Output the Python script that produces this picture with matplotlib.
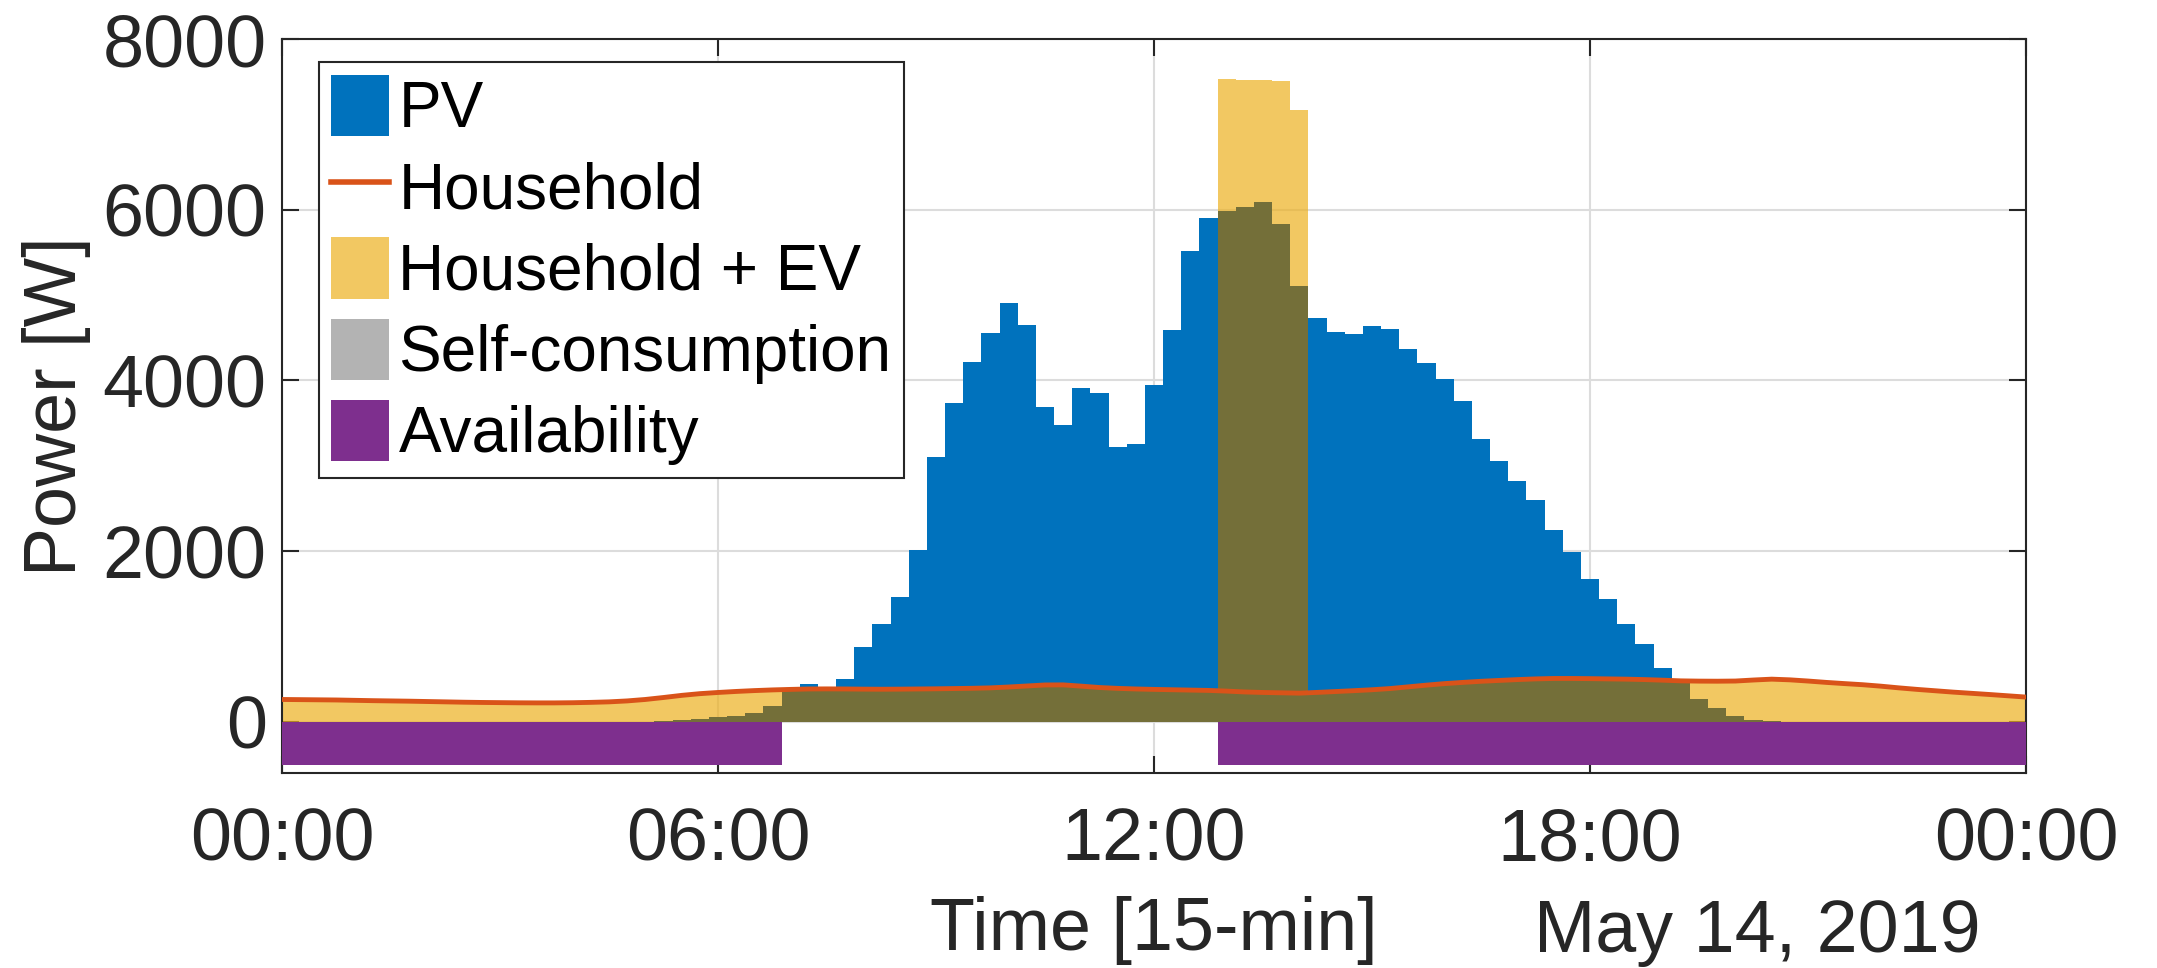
import matplotlib
matplotlib.use("Agg")
import matplotlib.pyplot as plt
import numpy as np
from matplotlib.patches import Patch
from matplotlib.lines import Line2D

plt.rcParams["font.family"] = ["Liberation Sans", "DejaVu Sans"]

# 15-min time steps over May 14, 2019 (hours)
horas = np.arange(97) * 0.25

# PV generation [W]
pv = [0] * 21 + [
    8, 20, 31, 51, 70, 101, 187, 385, 440, 392, 499, 876, 1152, 1462, 2018,
    3103, 3731, 4219, 4551, 4906, 4654, 3686, 3475, 3915, 3852, 3224, 3251,
    3941, 4587, 5511, 5905, 5982, 6026, 6094, 5829, 5107, 4737, 4562, 4539,
    4640, 4602, 4373, 4208, 4014, 3757, 3315, 3053, 2825, 2597, 2247, 1985,
    1675, 1437, 1150, 915, 628, 470, 268, 160, 74, 26, 8,
] + [0] * 14

# Household load [W]
hogar = [
    262, 260, 258, 256, 252, 248, 245, 242, 238, 234, 230, 227, 225, 223, 222,
    222, 224, 228, 234, 245, 262, 285, 310, 330, 344, 356, 366, 374, 380, 385,
    386, 385, 383, 382, 383, 385, 387, 390, 393, 398, 408, 420, 432, 433, 418,
    402, 392, 385, 380, 376, 372, 368, 360, 350, 344, 340, 336, 345, 355, 365,
    376, 390, 410, 430, 448, 462, 475, 485, 495, 503, 508, 508, 506, 503, 500,
    495, 488, 480, 477, 476, 478, 490, 500, 492, 478, 462, 448, 435, 418, 398,
    380, 364, 348, 334, 320, 305, 290,
]

# EV charging [W]
ev = [0] * 52 + [7170, 7175, 7170, 7170, 6830] + [0] * 40

# EV availability at home (1 = plugged in)
disponible = [1] * 28 + [0] * 24 + [1] * 45

xticks = [0, 6, 12, 18, 24]
xtick_labels = ["00:00", "06:00", "12:00", "18:00", "00:00"]
yticks = [0, 2000, 4000, 6000, 8000]

pv = np.array(pv, dtype=float)
hogar = np.array(hogar, dtype=float)
carga = hogar + np.array(ev, dtype=float)
autoconsumo = np.minimum(pv, carga)
disp = -500 * np.array(disponible, dtype=float)

bordes = np.append(horas - 0.125, horas[-1] + 0.125)

azul = "#0072BD"
naranja = "#D95319"
amarillo = "#EDB120"
morado = "#7E2F8E"
oliva = "#746F39"
gris_txt = "#262626"
fs = 53

fig = plt.figure(figsize=(21.57, 9.68), dpi=100)
ax = fig.add_axes([0.1307, 0.2014, 0.8086, 0.7583])

ax.stairs(carga, bordes, fill=True, color=amarillo, alpha=0.7, zorder=2)
ax.stairs(pv, bordes, fill=True, color=azul, zorder=3)
ax.stairs(autoconsumo, bordes, fill=True, color=oliva, zorder=4)
ax.plot(horas, hogar, color=naranja, lw=3.5, zorder=5)
ax.stairs(disp, bordes, fill=True, color=morado, baseline=0, zorder=5)

ax.set_xlim(0, 24)
ax.set_ylim(-600, 8000)
ax.set_xticks(xticks, xtick_labels)
ax.set_yticks(yticks)
ax.grid(True, color="#dcdcdc", lw=1.5, zorder=0)
ax.set_axisbelow(True)

ax.tick_params(direction="in", length=12, width=1.5, colors=gris_txt,
               labelsize=fs, top=True, right=True)
ax.tick_params(axis="x", pad=24)
ax.tick_params(axis="y", pad=11)
for s in ax.spines.values():
    s.set_color(gris_txt)
    s.set_linewidth(1.5)

ax.set_ylabel("Power [W]", fontsize=fs, color=gris_txt, va="center")
ax.yaxis.set_label_coords(-0.129, 0.5)
ax.set_xlabel("Time [15-min]", fontsize=fs, color=gris_txt, va="center")
ax.xaxis.set_label_coords(0.5, -0.215)
fig.text(0.9184, 0.037, "May 14, 2019", fontsize=fs, color=gris_txt,
         ha="right", va="center")

manejadores = [
    Patch(facecolor=azul, edgecolor="none"),
    Line2D([0], [0], color=naranja, lw=4),
    Patch(facecolor=amarillo, alpha=0.7, edgecolor="none"),
    Patch(facecolor="#B3B3B3", edgecolor="none"),
    Patch(facecolor=morado, edgecolor="none"),
]
etiquetas = ["PV", "Household", "Household + EV", "Self-consumption", "Availability"]
leg = ax.legend(manejadores, etiquetas, loc="upper left",
                bbox_to_anchor=(0.021, 0.969), fontsize=46, fancybox=False,
                framealpha=1, edgecolor=gris_txt, handlelength=0.9,
                handleheight=1.1, handletextpad=0.15, labelspacing=0.25,
                borderpad=0.2, borderaxespad=0)
leg.get_frame().set_linewidth(1.5)
leg.set_zorder(10)

fig.savefig("out.png", dpi=100)
